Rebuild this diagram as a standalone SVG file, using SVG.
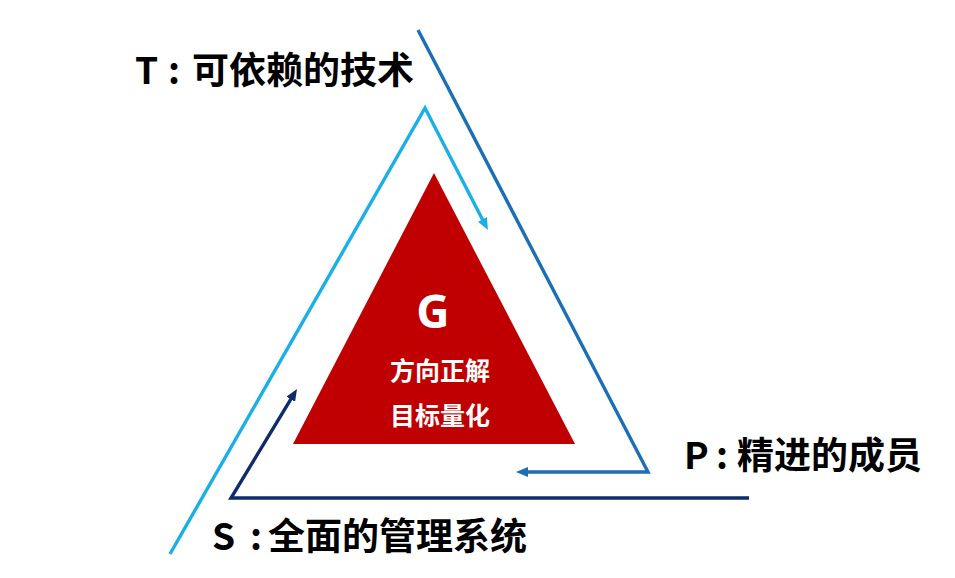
<svg xmlns="http://www.w3.org/2000/svg" width="955" height="578" viewBox="0 0 955 578">
  <style>
    .lbl { font-family: "Noto Sans CJK SC", "Noto Sans", sans-serif; font-weight: bold; font-size: 37px; fill: #000000; }
    .ctr { font-family: "Noto Sans CJK SC", "Noto Sans", sans-serif; font-weight: bold; font-size: 25px; fill: #ffffff; text-anchor: middle; }
    .g { font-family: "Open Sans", "Noto Sans", sans-serif; font-weight: bold; font-size: 46px; fill: #ffffff; text-anchor: middle; }
    .conn { fill: none; stroke-width: 3.4; stroke-linejoin: miter; stroke-miterlimit: 20; }
  </style>
  <defs>
    <marker id="arrLight" markerUnits="userSpaceOnUse" markerWidth="12" markerHeight="10" refX="6" refY="5" orient="auto">
      <path d="M0,0 L12,5 L0,10 z" fill="#1AAFE6"/>
    </marker>
    <marker id="arrMid" markerUnits="userSpaceOnUse" markerWidth="12" markerHeight="10" refX="6" refY="5" orient="auto">
      <path d="M0,0 L12,5 L0,10 z" fill="#1B6FB5"/>
    </marker>
    <marker id="arrNavy" markerUnits="userSpaceOnUse" markerWidth="12" markerHeight="10" refX="6" refY="5" orient="auto">
      <path d="M0,0 L12,5 L0,10 z" fill="#0F2B6B"/>
    </marker>
  </defs>
  <rect width="955" height="578" fill="#ffffff"/>

  <g id="connectors">
    <polyline class="conn" stroke="#1AAFE6" points="170,554 425,108 485.2,224.7" marker-end="url(#arrLight)"/>
    <polyline class="conn" stroke="#1B6FB5" points="418,30 648,472 522,472" marker-end="url(#arrMid)"/>
    <polyline class="conn" stroke="#0F2B6B" points="749,498 231,498 293.9,394.1" marker-end="url(#arrNavy)"/>
  </g>

  <g id="node-G">
    <polygon points="434,173 575,444 293,444" fill="#C00000"/>
    <text class="g" x="433" y="328">G</text>
    <text class="ctr" x="440" y="380">方向正解</text>
    <text class="ctr" x="440" y="425">目标量化</text>
  </g>

  <g id="node-T">
    <text class="lbl" x="135" y="84">T<tspan x="168">:</tspan> <tspan x="192">可依赖的技术</tspan></text>
  </g>

  <g id="node-P">
    <text class="lbl" x="684" y="469">P<tspan x="716">:</tspan> <tspan x="737">精进的成员</tspan></text>
  </g>

  <g id="node-S">
    <text class="lbl" x="212" y="550">S<tspan x="250">:</tspan> <tspan x="268">全面的管理系统</tspan></text>
  </g>
</svg>
